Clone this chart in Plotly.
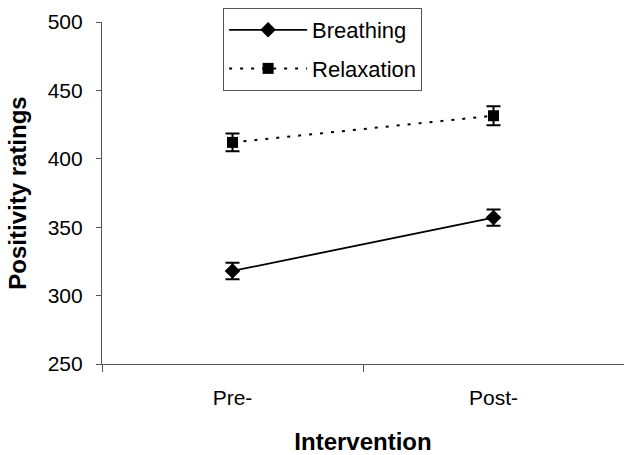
import plotly.graph_objects as go

categories = ["Pre-", "Post-"]
breathing = [318, 357]
breathing_err = [6, 6]
relaxation = [412, 431.5]
relaxation_err = [6.5, 7]
y_ticks = [250, 300, 350, 400, 450, 500]

FONT = "Liberation Sans, Arial, sans-serif"

fig = go.Figure()
fig.add_trace(go.Scatter(
    x=categories, y=breathing, name="Breathing", mode="lines+markers",
    line=dict(color="black", width=1.8),
    marker=dict(symbol="diamond", size=12, color="black"),
    error_y=dict(type="data", array=breathing_err, color="black", thickness=2, width=7),
    legendgroup="a",
))
fig.add_trace(go.Scatter(
    x=categories, y=relaxation, name="Relaxation", mode="lines+markers",
    line=dict(color="black", width=2, dash="3px,8px"),
    marker=dict(symbol="square", size=11, color="black"),
    error_y=dict(type="data", array=relaxation_err, color="black", thickness=2, width=7),
    legendgroup="b",
))

fig.update_layout(
    width=624, height=455,
    margin=dict(l=102, r=0, t=22, b=91),
    paper_bgcolor="white", plot_bgcolor="white",
    font=dict(family=FONT, size=21, color="black"),
    showlegend=True,
    legend=dict(
        x=0.232, y=1.041, xanchor="left", yanchor="top",
        bordercolor="#555", borderwidth=1, bgcolor="white",
        font=dict(size=22), tracegroupgap=7, traceorder="grouped",
        itemwidth=78,
    ),
    xaxis=dict(
        type="category", range=[-0.5, 1.5],
        showline=True, linecolor="#555", linewidth=1.2,
        ticks="outside", tickson="boundaries", ticklen=7, tickcolor="#555",
        showgrid=False, zeroline=False,
        tickfont=dict(size=21), ticklabelstandoff=15,
        title=dict(text="<b>Intervention</b>", font=dict(size=24), standoff=24),
    ),
    yaxis=dict(
        range=[250, 500], tickvals=y_ticks,
        showline=True, linecolor="#555", linewidth=1.2,
        ticks="outside", ticklen=5, tickcolor="#555",
        showgrid=False, zeroline=False,
        tickfont=dict(size=21), ticklabelstandoff=9,
        title=dict(text="<b>Positivity ratings</b>", font=dict(size=24), standoff=14),
    ),
)

fig.write_html("out.html", config={"displayModeBar": False},
               post_script="document.body.style.margin='0';")
